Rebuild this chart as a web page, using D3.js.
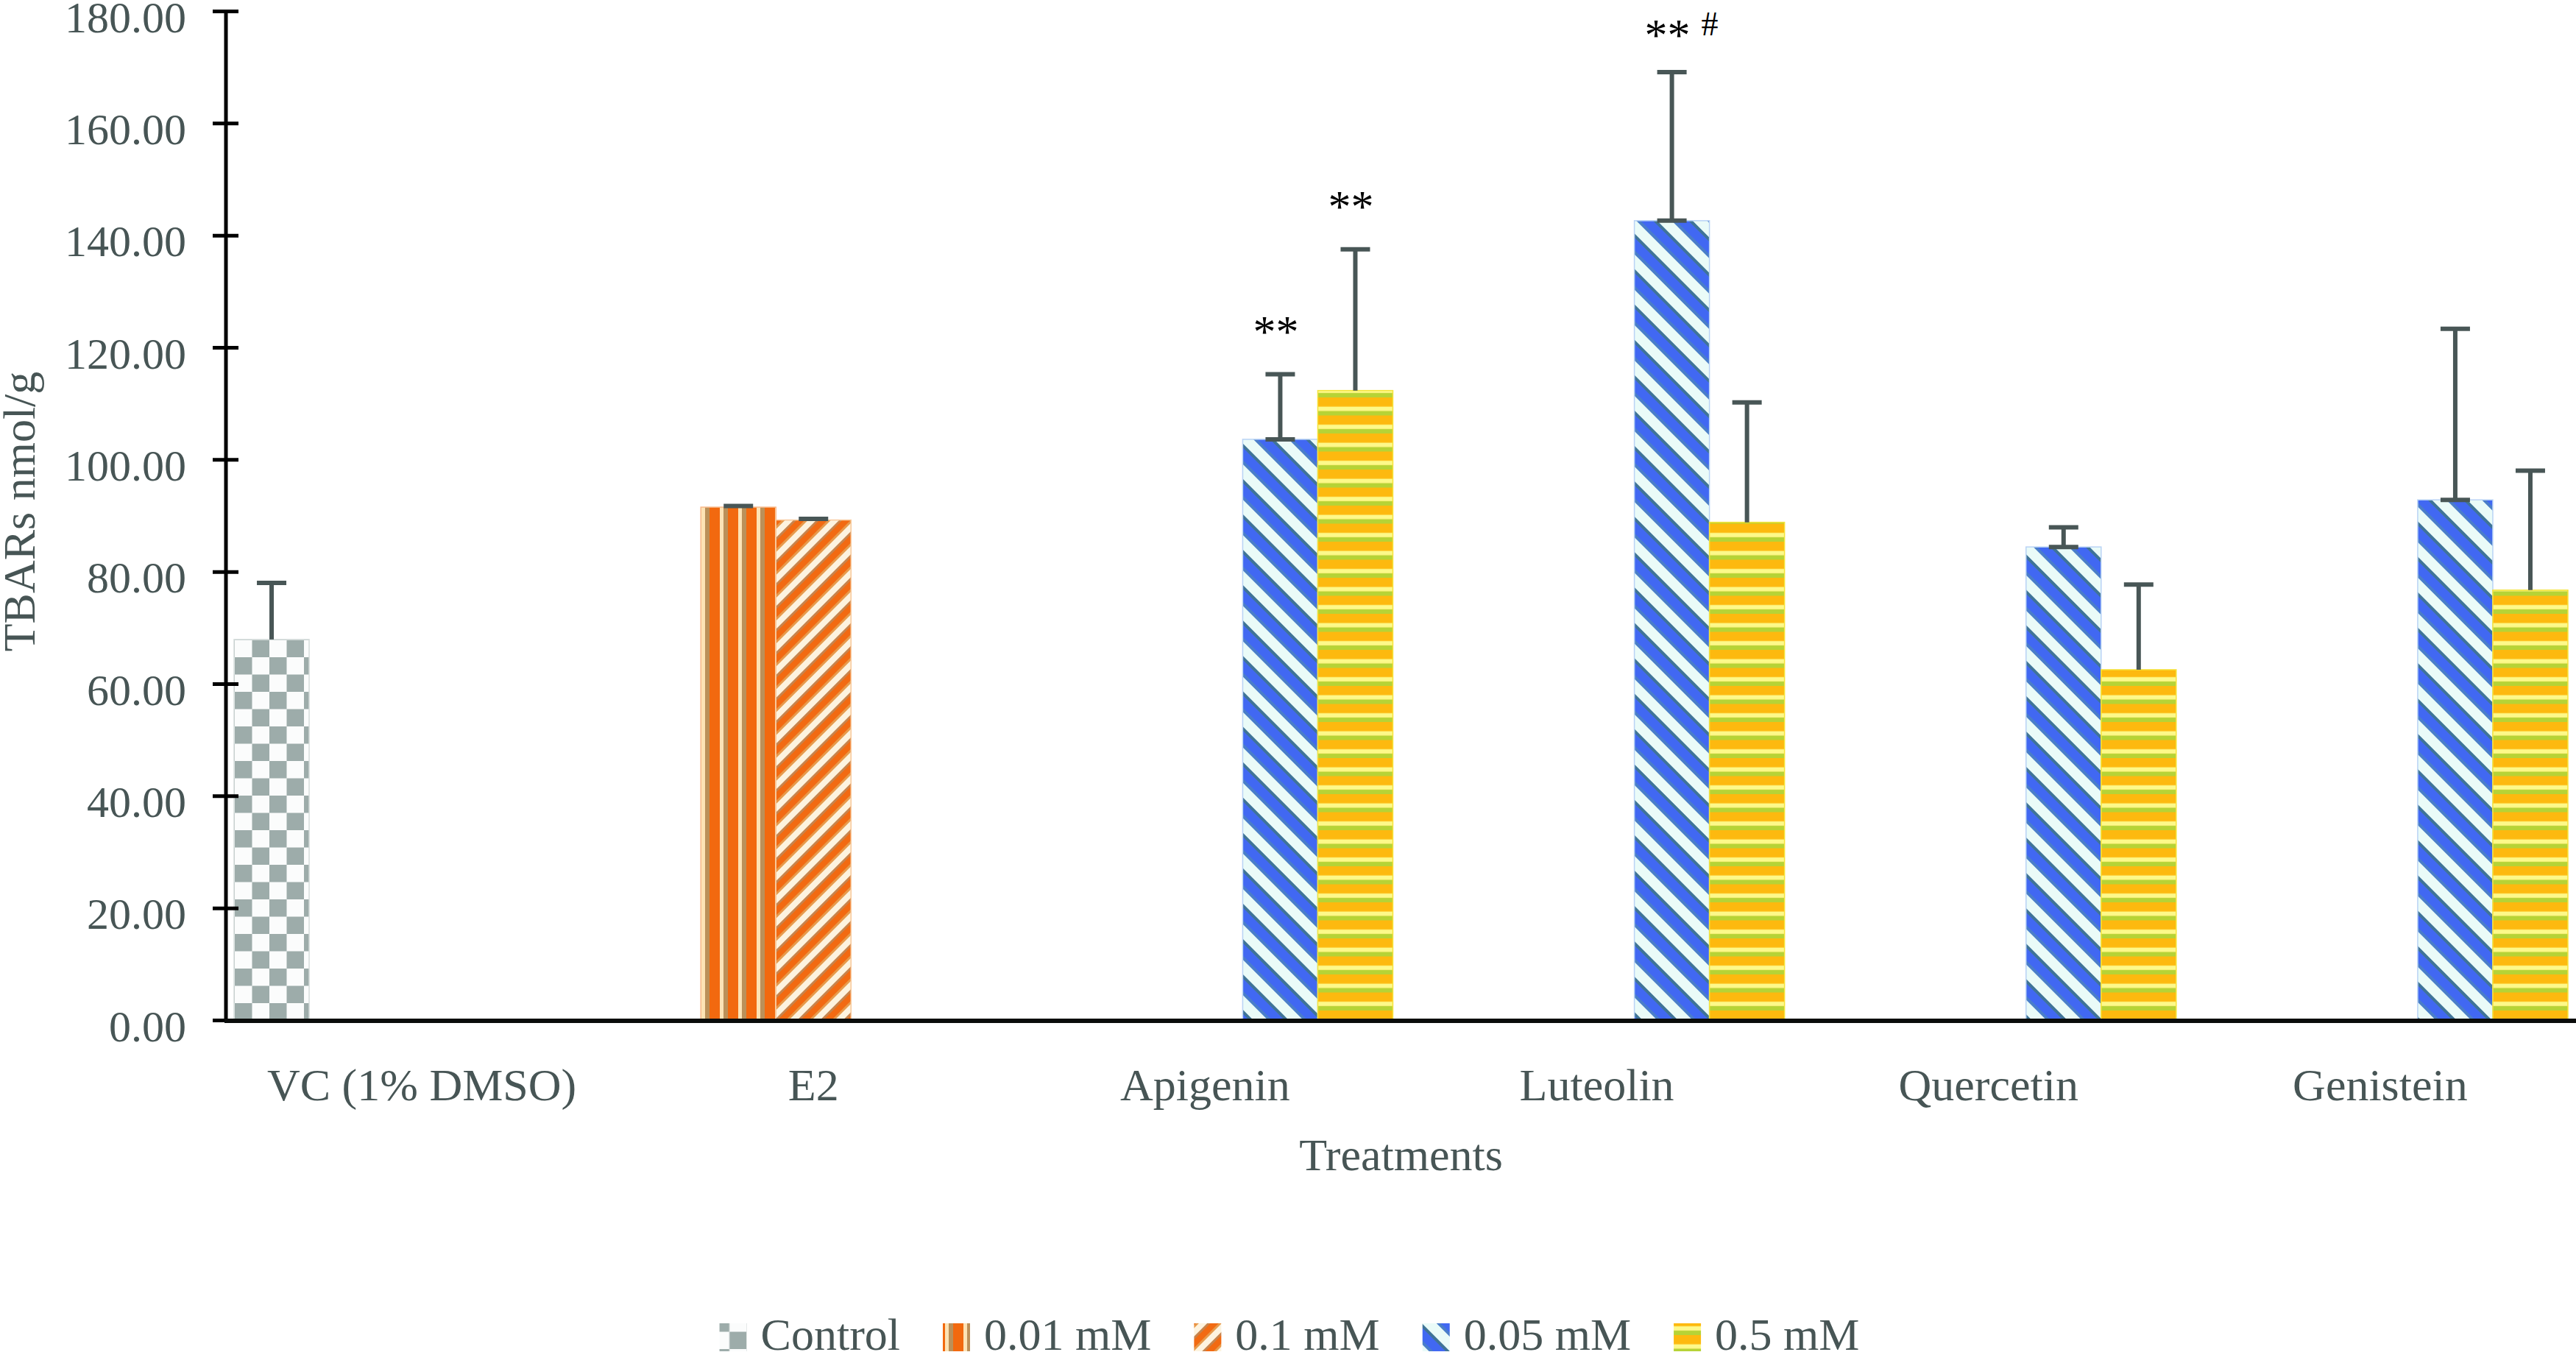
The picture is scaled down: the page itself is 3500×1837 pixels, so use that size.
<!DOCTYPE html>
<html>
<head>
<meta charset="utf-8">
<script src="https://cdn.jsdelivr.net/npm/d3@7"></script>
<style>
html,body{margin:0;padding:0;background:#fff;}
svg{display:block;}
text{font-family:"Liberation Serif","Times New Roman",serif;}
</style>
</head>
<body>
<svg id="chart" width="3500" height="1837"></svg>
<script>
// ---- data ----
const categories = ["VC (1% DMSO)", "E2", "Apigenin", "Luteolin", "Quercetin", "Genistein"];
const seriesNames = ["Control", "0.01 mM", "0.1 mM", "0.05 mM", "0.5 mM"];
const controlVals  = [67.9, null, null, null, null, null];
const controlErr   = [10.1, null, null, null, null, null];
const c001Vals     = [null, 91.5, null, null, null, null];
const c001Err      = [null, 0.2, null, null, null, null];
const c01Vals      = [null, 89.2, null, null, null, null];
const c01Err       = [null, 0.2, null, null, null, null];
const c005Vals     = [null, null, 103.6, 142.6, 84.4, 92.8];
const c005Err      = [null, null, 11.6, 26.5, 3.5, 30.5];
const c05Vals      = [null, null, 112.3, 88.8, 62.5, 76.7];
const c05Err       = [null, null, 25.2, 21.4, 15.2, 21.3];
const yTicks = [0, 20, 40, 60, 80, 100, 120, 140, 160, 180];
const annotations = [
  {category: "Apigenin", series: "0.05 mM", text: "**", extra: ""},
  {category: "Apigenin", series: "0.5 mM", text: "**", extra: ""},
  {category: "Luteolin", series: "0.05 mM", text: "**", extra: "#"}
];
const yLabel = "TBARs nmol/g";
const xLabel = "Treatments";

(function(){
const seriesData = [
  {name: seriesNames[0], vals: controlVals, errs: controlErr, pat: "p-control", stroke: "#d5dcdb", lowCap: false},
  {name: seriesNames[1], vals: c001Vals, errs: c001Err, pat: "p-001", stroke: "#f8b98a", lowCap: false},
  {name: seriesNames[2], vals: c01Vals, errs: c01Err, pat: "p-01", stroke: "#f8c89a", lowCap: false},
  {name: seriesNames[3], vals: c005Vals, errs: c005Err, pat: "p-005", stroke: "#b9d3f5", lowCap: true},
  {name: seriesNames[4], vals: c05Vals, errs: c05Err, pat: "p-05", stroke: "#f5e33a", lowCap: false}
];

// ---- layout ----
const svg = d3.select("#chart");
const textColor = "#475555";
const pLeft = 307, pRight = 3500, pTop = 15, pBottom = 1386;

const x0 = d3.scaleBand().domain(categories).range([pLeft, pRight]).paddingInner(0).paddingOuter(0);
const x1 = d3.scaleBand().domain(seriesNames).range([0, x0.bandwidth()]).paddingInner(0).paddingOuter(0.108);
const y = d3.scaleLinear().domain([0, 180]).range([pBottom, pTop]);

// ---- patterns ----
const defs = svg.append("defs");
(function(){
  const s = 23.5;
  const p = defs.append("pattern").attr("id", "p-control").attr("patternUnits", "userSpaceOnUse")
    .attr("width", 2*s).attr("height", 2*s).attr("x", 319).attr("y", 0);
  p.append("rect").attr("width", 2*s).attr("height", 2*s).attr("fill", "#fbfcfc");
  p.append("rect").attr("x", 0).attr("y", 0).attr("width", s).attr("height", s).attr("fill", "#9dacaa");
  p.append("rect").attr("x", s).attr("y", s).attr("width", s).attr("height", s).attr("fill", "#9dacaa");
})();
(function(){
  const p = defs.append("pattern").attr("id", "p-001").attr("patternUnits", "userSpaceOnUse")
    .attr("width", 25).attr("height", 25).attr("x", 953).attr("y", 0);
  p.append("rect").attr("width", 25).attr("height", 25).attr("fill", "#f2690f");
  p.append("rect").attr("x", 0).attr("width", 5).attr("height", 25).attr("fill", "#fde3b5");
  p.append("rect").attr("x", 5).attr("width", 6).attr("height", 25).attr("fill", "#bb9059");
})();
(function(){
  const p = defs.append("pattern").attr("id", "p-01").attr("patternUnits", "userSpaceOnUse")
    .attr("width", 22).attr("height", 22).attr("patternTransform", "rotate(45)");
  p.append("rect").attr("width", 22).attr("height", 22).attr("fill", "#f26a12");
  p.append("rect").attr("x", 0).attr("width", 8).attr("height", 22).attr("fill", "#fdf3df");
  p.append("rect").attr("x", 8).attr("width", 3).attr("height", 22).attr("fill", "#c7844d");
  p.append("rect").attr("x", 19).attr("width", 3).attr("height", 22).attr("fill", "#e79a4b");
})();
(function(){
  const p = defs.append("pattern").attr("id", "p-005").attr("patternUnits", "userSpaceOnUse")
    .attr("width", 34).attr("height", 34).attr("patternTransform", "rotate(-45)");
  p.append("rect").attr("width", 34).attr("height", 34).attr("fill", "#eafbf8");
  p.append("rect").attr("x", 0).attr("width", 20).attr("height", 34).attr("fill", "#4168f2");
  p.append("rect").attr("x", 0).attr("width", 4).attr("height", 34).attr("fill", "#4a7ec9");
  p.append("rect").attr("x", 16).attr("width", 4).attr("height", 34).attr("fill", "#3f7497");
})();
(function(){
  const p = defs.append("pattern").attr("id", "p-05").attr("patternUnits", "userSpaceOnUse")
    .attr("width", 24.5).attr("height", 24.5).attr("x", 0).attr("y", 1);
  p.append("rect").attr("width", 24.5).attr("height", 24.5).attr("fill", "#fdb90f");
  p.append("rect").attr("y", 12.5).attr("width", 24.5).attr("height", 6).attr("fill", "#fdf98a");
  p.append("rect").attr("y", 18.5).attr("width", 24.5).attr("height", 6).attr("fill", "#b6d336");
})();

// ---- bars ----
const barG = svg.append("g");
seriesData.forEach(s => {
  const pts = categories.map((c, i) => ({c, v: s.vals[i], e: s.errs[i]})).filter(d => d.v != null);
  barG.selectAll(null).data(pts).enter().append("rect")
    .attr("x", d => x0(d.c) + x1(s.name))
    .attr("y", d => y(d.v))
    .attr("width", x1.bandwidth())
    .attr("height", d => y(0) - y(d.v))
    .attr("fill", `url(#${s.pat})`)
    .attr("stroke", s.stroke).attr("stroke-width", 1.5);
});

// ---- error bars ----
const errColor = "#485656";
const capW = 40;
seriesData.forEach(s => {
  const pts = categories.map((c, i) => ({c, v: s.vals[i], e: s.errs[i]})).filter(d => d.v != null);
  const g = svg.append("g").attr("stroke", errColor).attr("stroke-width", 6);
  pts.forEach(d => {
    const cx = x0(d.c) + x1(s.name) + x1.bandwidth() / 2;
    const yt = y(d.v + d.e), yb = y(d.v);
    g.append("line").attr("x1", cx).attr("x2", cx).attr("y1", yt).attr("y2", yb);
    g.append("line").attr("x1", cx - capW/2).attr("x2", cx + capW/2).attr("y1", yt).attr("y2", yt);
    if (s.lowCap) g.append("line").attr("x1", cx - capW/2).attr("x2", cx + capW/2).attr("y1", yb).attr("y2", yb);
  });
});

// ---- annotations ----
annotations.forEach(a => {
  const s = seriesData.find(d => d.name === a.series);
  const i = categories.indexOf(a.category);
  const cx = x0(a.category) + x1(a.series) + x1.bandwidth() / 2;
  const base = Math.max(68, y(s.vals[i] + s.errs[i]) - 38);
  svg.append("text").attr("x", cx - 6).attr("y", base).attr("text-anchor", "middle")
    .attr("font-size", 62).attr("fill", "#000").text(a.text);
  if (a.extra) {
    svg.append("text").attr("x", cx + 40).attr("y", base - 20).attr("text-anchor", "start")
      .attr("font-size", 46).attr("fill", "#000").text(a.extra);
  }
});

// ---- axes ----
const yAxis = d3.axisLeft(y).tickValues(yTicks).tickFormat(d3.format(".2f")).tickSize(0).tickPadding(0);
const yg = svg.append("g").attr("transform", `translate(${pLeft},0)`).call(yAxis);
yg.select(".domain").remove();
yg.selectAll(".tick text").attr("x", -54).attr("dy", null).attr("y", 0)
  .attr("transform", "translate(0,28)")
  .attr("font-size", 60).attr("fill", textColor).attr("font-family", "Liberation Serif, serif");
yg.selectAll(".tick").append("line").attr("x1", -18).attr("x2", 17).attr("y1", 0).attr("y2", 0)
  .attr("stroke", "#000").attr("stroke-width", 5);
svg.append("line").attr("x1", pLeft).attr("x2", pLeft).attr("y1", pTop - 2).attr("y2", pBottom)
  .attr("stroke", "#000").attr("stroke-width", 5);

const xAxis = d3.axisBottom(x0).tickSize(0).tickPadding(0);
const xg = svg.append("g").attr("transform", `translate(0,${pBottom})`).call(xAxis);
xg.select(".domain").remove();
xg.selectAll(".tick text").attr("y", 109).attr("dy", null)
  .attr("font-size", 62).attr("fill", textColor).attr("font-family", "Liberation Serif, serif");
svg.append("line").attr("x1", pLeft - 2).attr("x2", pRight).attr("y1", pBottom + 1).attr("y2", pBottom + 1)
  .attr("stroke", "#0a0c0b").attr("stroke-width", 6);

// ---- axis titles ----
svg.append("text").attr("transform", "translate(47,695) rotate(-90)").attr("text-anchor", "middle")
  .attr("font-size", 62).attr("fill", textColor).text(yLabel);
svg.append("text").attr("x", (pLeft + pRight) / 2).attr("y", 1590).attr("text-anchor", "middle")
  .attr("font-size", 62).attr("fill", textColor).text(xLabel);

// ---- legend ----
const lg = svg.append("g");
const items = lg.selectAll("g").data(seriesData).enter().append("g");
items.append("rect").attr("width", 37).attr("height", 38).attr("y", 1798)
  .attr("fill", d => `url(#${d.pat})`);
items.append("text").attr("x", 56).attr("y", 1834).attr("font-size", 62).attr("fill", textColor)
  .text(d => d.name);
let cursor = 0;
const offs = [];
items.each(function(){
  const w = d3.select(this).select("text").node().getComputedTextLength();
  offs.push(cursor);
  cursor += 56 + w + 58;
});
const totalW = cursor - 58;
const startX = 1752 - totalW / 2;
items.attr("transform", (d, i) => `translate(${startX + offs[i]},0)`);
})();
</script>
</body>
</html>
